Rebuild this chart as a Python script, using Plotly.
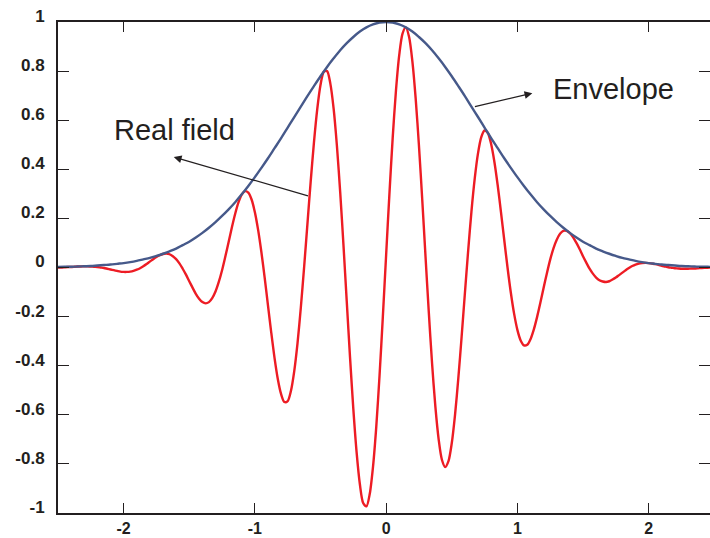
import numpy as np
import plotly.graph_objects as go

# Sample positions along the propagation axis
x_field = np.round(np.arange(-2.5, 2.5001, 0.025), 3)
x_env = np.round(np.arange(-2.5, 2.5001, 0.05), 2)

# Real (oscillating) field, one value per x_field position
real_field = [
    0.000, 0.000, 0.001, 0.002, 0.002, 0.003, 0.004, 0.004, 0.005, 0.005,
    0.004, 0.003, 0.002, 0.000, -0.002, -0.005, -0.008, -0.011, -0.014, -0.017,
    -0.018, -0.018, -0.017, -0.014, -0.009, -0.003, 0.005, 0.014, 0.024, 0.034,
    0.043, 0.050, 0.055, 0.057, 0.054, 0.046, 0.034, 0.017, -0.005, -0.029,
    -0.056, -0.082, -0.107, -0.127, -0.141, -0.146, -0.141, -0.125, -0.098, -0.059,
    -0.011, 0.045, 0.104, 0.164, 0.219, 0.265, 0.297, 0.311, 0.305, 0.277,
    0.225, 0.152, 0.061, -0.043, -0.155, -0.266, -0.369, -0.455, -0.516, -0.548,
    -0.544, -0.502, -0.422, -0.308, -0.164, 0.000, 0.175, 0.349, 0.509, 0.644,
    0.743, 0.797, 0.800, 0.749, 0.647, 0.496, 0.307, 0.091, -0.138, -0.366,
    -0.575, -0.752, -0.883, -0.959, -0.973, -0.923, -0.812, -0.648, -0.439, -0.201,
    0.051, 0.299, 0.528, 0.721, 0.866, 0.953, 0.978, 0.939, 0.840, 0.689,
    0.497, 0.278, 0.046, -0.181, -0.390, -0.566, -0.699, -0.783, -0.813, -0.789,
    -0.716, -0.600, -0.452, -0.283, -0.106, 0.068, 0.228, 0.362, 0.465, 0.531,
    0.558, 0.548, 0.503, 0.430, 0.335, 0.226, 0.112, 0.000, -0.102, -0.188,
    -0.254, -0.297, -0.317, -0.315, -0.292, -0.253, -0.202, -0.144, -0.082, -0.023,
    0.032, 0.078, 0.113, 0.137, 0.149, 0.149, 0.140, 0.123, 0.100, 0.074,
    0.046, 0.020, -0.005, -0.025, -0.041, -0.052, -0.057, -0.059, -0.056, -0.049,
    -0.041, -0.031, -0.021, -0.011, -0.002, 0.006, 0.012, 0.016, 0.018, 0.019,
    0.018, 0.016, 0.014, 0.011, 0.007, 0.004, 0.001, -0.001, -0.003, -0.004,
    -0.005, -0.005, -0.005, -0.004, -0.004, -0.003, -0.002, -0.001, -0.001, 0.000,
    0.000,
]

# Envelope, one value per x_env position from 0 outwards (symmetric about 0)
envelope_half = [
    1.000, 0.998, 0.990, 0.978, 0.961, 0.939, 0.914, 0.885, 0.852, 0.817,
    0.779, 0.739, 0.698, 0.655, 0.613, 0.570, 0.527, 0.486, 0.445, 0.406,
    0.368, 0.332, 0.298, 0.266, 0.237, 0.210, 0.185, 0.162, 0.141, 0.122,
    0.105, 0.091, 0.077, 0.066, 0.056, 0.047, 0.039, 0.033, 0.027, 0.022,
    0.018, 0.015, 0.012, 0.010, 0.008, 0.006, 0.005, 0.004, 0.003, 0.003,
    0.002,
]
envelope = envelope_half[:0:-1] + envelope_half

x_ticks = [-2, -1, 0, 1, 2]
x_tick_text = ["-2", "-1", "0", "1", "2"]
y_ticks = [1, 0.8, 0.6, 0.4, 0.2, 0, -0.2, -0.4, -0.6, -0.8, -1]
y_tick_text = ["1", "0.8", "0.6", "0.4", "0.2", "0", "-0.2", "-0.4", "-0.6", "-0.8", "-1"]

INK = "#231f20"
RED = "#ed1c24"
BLUE = "#46598a"

fig = go.Figure()
fig.add_trace(go.Scatter(x=x_field, y=real_field, mode="lines",
                         line=dict(color=RED, width=2.4, shape="spline", smoothing=0.8),
                         hoverinfo="skip"))
fig.add_trace(go.Scatter(x=x_env, y=envelope, mode="lines",
                         line=dict(color=BLUE, width=2.4, shape="spline"),
                         hoverinfo="skip"))

label_font = dict(family="Liberation Sans, Arial, sans-serif", size=29, color=INK)

# Callout labels with arrows
fig.add_annotation(x=1.729, y=0.728, text="Envelope", showarrow=False, font=label_font)
fig.add_annotation(x=1.114, y=0.710, ax=0.665, ay=0.654, axref="x", ayref="y",
                   text="", showarrow=True, arrowhead=2, arrowsize=1.3,
                   arrowwidth=1.2, arrowcolor=INK, standoff=0, startstandoff=0)
fig.add_annotation(x=-1.615, y=0.561, text="Real field", showarrow=False, font=label_font)
fig.add_annotation(x=-1.618, y=0.450, ax=-0.584, ay=0.290, axref="x", ayref="y",
                   text="", showarrow=True, arrowhead=2, arrowsize=1.3,
                   arrowwidth=1.2, arrowcolor=INK, standoff=0, startstandoff=0)

tick_font = dict(family="Liberation Sans, Arial, sans-serif", size=17, color=INK,
                 weight="bold")
x_tick_font = dict(tick_font, size=16)

fig.update_xaxes(range=[-2.5, 2.4676], showgrid=False, zeroline=False,
                 showline=True, linecolor=INK, linewidth=2, mirror="ticks",
                 ticks="inside", ticklen=10, tickwidth=1.3, tickcolor=INK,
                 tickvals=x_ticks, ticktext=x_tick_text, tickfont=x_tick_font,
                 ticklabelstandoff=0, automargin=False)
fig.update_yaxes(range=[-1, 1], showgrid=False, zeroline=False,
                 showline=True, linecolor=INK, linewidth=2, mirror="ticks",
                 ticks="inside", ticklen=11, tickwidth=1.3, tickcolor=INK,
                 tickvals=y_ticks, ticktext=y_tick_text, tickfont=tick_font,
                 ticklabelstandoff=8, ticklabelshift=-6, automargin=False)

fig.update_layout(width=710, height=538, showlegend=False,
                  margin=dict(l=58, r=0, t=22, b=25),
                  paper_bgcolor="white", plot_bgcolor="white")

fig.write_html("out.html")
